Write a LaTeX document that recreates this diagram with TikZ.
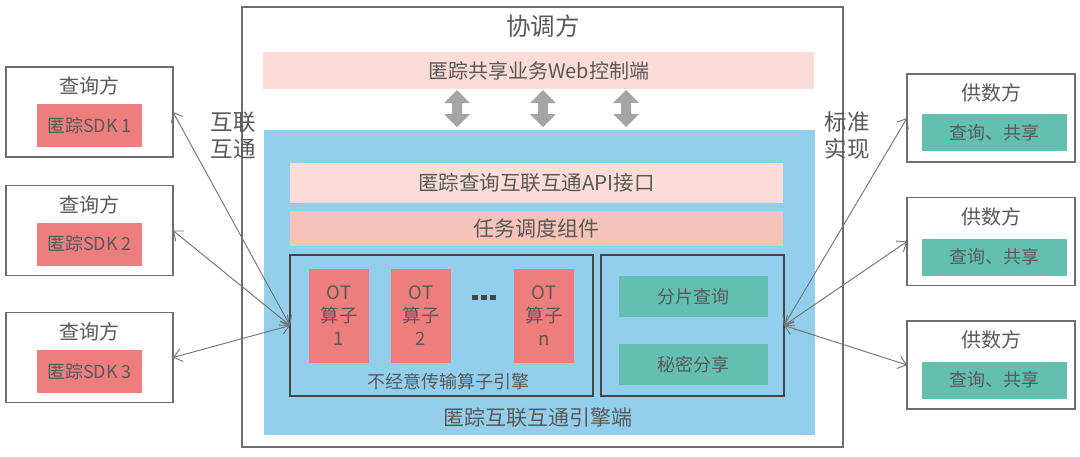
\documentclass[tikz,border=0pt]{standalone}
\usepackage{fontspec}
\setmainfont{Noto Sans CJK SC}
\usetikzlibrary{arrows.meta}
\definecolor{txt}{HTML}{595959}
\definecolor{framegray}{HTML}{6E6E6E}
\definecolor{darkframe}{HTML}{454545}
\definecolor{lightpink}{HTML}{FBDCD6}
\definecolor{salmon}{HTML}{F7C3B9}
\definecolor{skyblue}{HTML}{93CFEC}
\definecolor{redbox}{HTML}{EE7E7E}
\definecolor{teal}{HTML}{63C0B1}
\definecolor{blockgray}{HTML}{A6A4A4}
\definecolor{linkgray}{HTML}{707070}
\newcommand{\fsz}[1]{\fontsize{#1}{#1}\selectfont}
\begin{document}
\begin{tikzpicture}[x=1pt,y=-1pt,
  every node/.style={text=txt, inner sep=0pt, outer sep=0pt},
  frame/.style={draw=framegray, line width=1.3pt, fill=white, rectangle},
  engbox/.style={draw=darkframe, line width=1.3pt, rectangle},
  bar/.style={rectangle, fill=#1},
  lbl/.style={font=\fsz{#1}},
  link/.style={draw=linkgray, line width=0.9pt, {Straight Barb[length=8pt,width=13pt]}-{Straight Barb[length=8pt,width=13pt]}}
]
\useasboundingbox[fill=white] (0,0) rectangle (1080,456);

% coordinator frame
\node[frame, minimum width=601, minimum height=440] (coord) at (542.5,227) {};
\node[lbl=24.5] (coordtitle) at (543,26) {协调方};

% web control bar
\node[bar=lightpink, minimum width=551, minimum height=37, font=\fsz{20}] (web) at (538.5,70.5) {匿踪共享业务Web控制端};

% block double arrows
\foreach \cx in {457, 543, 626}{
  \fill[blockgray] (\cx,90) -- (\cx+13,103) -- (\cx+5,103) -- (\cx+5,114) -- (\cx+13,114)
     -- (\cx,127) -- (\cx-13,114) -- (\cx-5,114) -- (\cx-5,103) -- (\cx-13,103) -- cycle;
}

% engine panel
\node[bar=skyblue, minimum width=551, minimum height=305] (panel) at (539.5,282.5) {};
\node[bar=lightpink, minimum width=493, minimum height=40, font=\fsz{20.5}] (api) at (536.5,183) {匿踪查询互联互通API接口};
\node[bar=salmon, minimum width=493, minimum height=35, font=\fsz{21}] (task) at (536.5,228.5) {任务调度组件};

\node[engbox, minimum width=303, minimum height=141] (ot) at (441.5,325.5) {};
\node[engbox, minimum width=183, minimum height=141] (rt) at (692.5,325.5) {};

\foreach \cx/\nm/\k in {339/ota/1, 421/otb/2, 544/otn/n}{
  \node[bar=redbox, minimum width=60, minimum height=94, align=center, font=\fontsize{18.5}{23}\selectfont] (\nm) at (\cx,316) {OT\\算子\\\k};
}
\foreach \dx in {475, 484, 493}{
  \fill[darkframe] (\dx-2.7,295) rectangle (\dx+2.7,300.4);
}
\node[lbl=18] (otlabel) at (448,382) {不经意传输算子引擎};

\node[bar=teal, minimum width=149, minimum height=41, font=\fsz{18}] (shard) at (693.5,296.5) {分片查询};
\node[bar=teal, minimum width=149, minimum height=41, font=\fsz{18}] (secret) at (693.5,364.5) {秘密分享};

\node[lbl=21] (panellabel) at (538,418) {匿踪互联互通引擎端};

% side labels
\node[align=center, font=\fontsize{22.5}{27}\selectfont] (hl) at (233,135.5) {互联\\互通};
\node[align=center, font=\fontsize{22.5}{27}\selectfont] (bz) at (847,135.5) {标准\\实现};

% query parties
\foreach \cy/\sy/\nm/\k in {112/125.5/qa/1, 230.5/244/qb/2, 357.5/371.5/qc/3}{
  \node[frame, minimum width=167, minimum height=90] (\nm) at (89.5,\cy) {};
  \node[lbl=20] (\nm t) at (89.5,\cy-26) {查询方};
  \node[bar=redbox, minimum width=105, minimum height=43, font=\fsz{18}] (\nm s) at (89.5,\sy) {匿踪SDK \k};
}

% data providers
\foreach \cy/\sy/\nm in {118/132.5/pa, 241.5/257/pb, 365/380/pc}{
  \node[frame, minimum width=168, minimum height=88] (\nm) at (991,\cy) {};
  \node[lbl=20] (\nm t) at (991,\cy-25) {供数方};
  \node[bar=teal, minimum width=145, minimum height=37, font=\fsz{18}] (\nm s) at (994.5,\sy) {查询、共享};
}

% connectors
\draw[link] (qa.east) -- (ot.west);
\draw[link] (qb.east) -- (ot.west);
\draw[link] (qc.east) -- (ot.west);
\draw[link] (pa.west) -- (rt.east);
\draw[link] (pb.west) -- (rt.east);
\draw[link] (pc.west) -- (rt.east);
\end{tikzpicture}
\end{document}
